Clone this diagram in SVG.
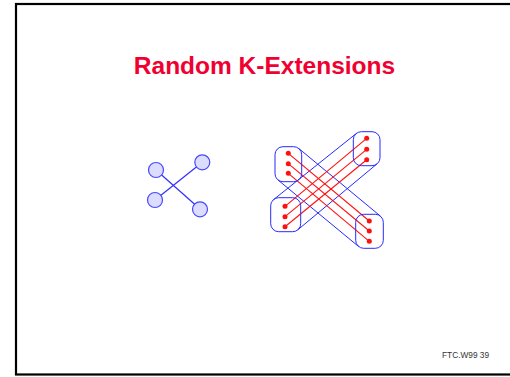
<svg xmlns="http://www.w3.org/2000/svg" width="510" height="377" viewBox="0 0 510 377">
<style>
.frame{fill:#fff;stroke:#000;stroke-width:2.2}
.title{font-family:"Liberation Sans",Arial,sans-serif;font-weight:bold;font-size:24.5px;fill:#f00030}
.foot{font-family:"Liberation Sans",Arial,sans-serif;font-size:8.3px;fill:#333}
.node{fill:#dcdcff;stroke:#4848ff;stroke-width:1.2}
.edge{stroke:#3030ff;stroke-width:1.2;fill:none}
.box{fill:none;stroke:#2828ff;stroke-width:1}
.band{stroke:#2828ff;stroke-width:1;fill:none}
.red{stroke:#ff1010;stroke-width:1.1;fill:none}
.dot{fill:#ff1010}
</style>
<rect width="510" height="377" fill="#fff"/>
<rect class="frame" x="16" y="4" width="510" height="370.5"/>
<text class="title" x="264.5" y="74" text-anchor="middle">Random K-Extensions</text>

<g id="connectors">
  <line class="edge" x1="156" y1="170" x2="200" y2="209"/>
  <line class="edge" x1="155" y1="200" x2="202" y2="162.5"/>
  <line class="band" x1="298.8" y1="148.5" x2="380.4" y2="216.1"/>
  <line class="band" x1="277.9" y1="179.9" x2="358.6" y2="246.5"/>
  <line class="band" x1="273.7" y1="199.5" x2="356.3" y2="133.5"/>
  <line class="band" x1="297.8" y1="229.8" x2="377.1" y2="163.8"/>
  <line class="red" x1="288.3" y1="153.3" x2="369.3" y2="221"/>
  <line class="red" x1="288.3" y1="163.7" x2="369.3" y2="231"/>
  <line class="red" x1="288.3" y1="173.3" x2="369.3" y2="241.3"/>
  <line class="red" x1="285" y1="206.3" x2="366.7" y2="138.3"/>
  <line class="red" x1="285" y1="216.7" x2="366.7" y2="149.3"/>
  <line class="red" x1="285" y1="226.7" x2="366.7" y2="159.7"/>
</g>

<g id="n1"><circle class="node" cx="156" cy="170" r="7.5"/></g>
<g id="n2"><circle class="node" cx="202.3" cy="162.3" r="7.5"/></g>
<g id="n3"><circle class="node" cx="155" cy="200" r="7.5"/></g>
<g id="n4"><circle class="node" cx="200" cy="209.3" r="7.5"/></g>

<g id="g-tl">
  <rect class="box" x="275" y="146.7" width="26.7" height="35" rx="8"/>
  <circle class="dot" cx="288.3" cy="153.3" r="2.5"/>
  <circle class="dot" cx="288.3" cy="163.7" r="2.5"/>
  <circle class="dot" cx="288.3" cy="173.3" r="2.5"/>
</g>
<g id="g-tr">
  <rect class="box" x="353.3" y="131.7" width="26.7" height="34" rx="8"/>
  <circle class="dot" cx="366.7" cy="138.3" r="2.5"/>
  <circle class="dot" cx="366.7" cy="149.3" r="2.5"/>
  <circle class="dot" cx="366.7" cy="159.7" r="2.5"/>
</g>
<g id="g-bl">
  <rect class="box" x="270.7" y="197.7" width="30" height="34" rx="8"/>
  <circle class="dot" cx="285" cy="206.3" r="2.5"/>
  <circle class="dot" cx="285" cy="216.7" r="2.5"/>
  <circle class="dot" cx="285" cy="226.7" r="2.5"/>
</g>
<g id="g-br">
  <rect class="box" x="355.7" y="214.3" width="27.6" height="34" rx="8"/>
  <circle class="dot" cx="369.3" cy="221" r="2.5"/>
  <circle class="dot" cx="369.3" cy="231" r="2.5"/>
  <circle class="dot" cx="369.3" cy="241.3" r="2.5"/>
</g>

<text class="foot" x="442" y="358">FTC.W99 39</text>
</svg>
